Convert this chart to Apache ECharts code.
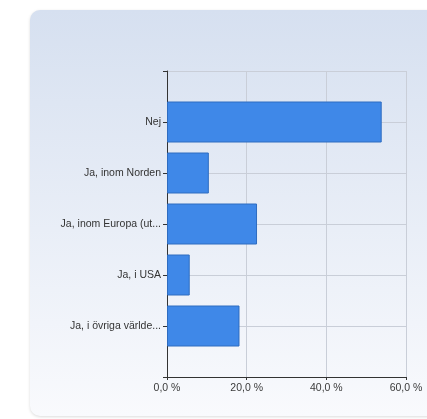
<!DOCTYPE html>
<html>
<head>
<meta charset="utf-8">
<script src="https://cdn.jsdelivr.net/npm/echarts@6/dist/echarts.min.js"></script>
<style>
html,body{margin:0;padding:0;background:#fff;}
#c{width:427px;height:419px;}
</style>
</head>
<body>
<div id="c"></div>
<script>
var categories = ['Nej', 'Ja, inom Norden', 'Ja, inom Europa (ut...', 'Ja, i USA', 'Ja, i övriga världe...'];
var values = [53.9, 10.5, 22.6, 5.7, 18.2];
var xTicks = [0, 20, 40, 60];

var chart = echarts.init(document.getElementById('c'), null, {renderer: 'canvas'});
var font = 'Liberation Sans, Arial, sans-serif';
var axisCats = [''].concat(categories).concat(['']);
var axisVals = [null].concat(values).concat([null]);

chart.setOption({
  animation: false,
  backgroundColor: '#ffffff',
  graphic: {
    elements: [{
      type: 'rect',
      z: -10,
      silent: true,
      shape: {x: 30, y: 10, width: 420, height: 406, r: 10},
      style: {
        fill: new echarts.graphic.LinearGradient(0, 0, 0, 1, [
          {offset: 0, color: '#d6e0f0'},
          {offset: 1, color: '#f9fafd'}
        ]),
        shadowBlur: 3,
        shadowColor: 'rgba(0,0,0,0.14)',
        shadowOffsetY: 1
      }
    }]
  },
  grid: {left: 167, right: 21, top: 71, bottom: 42, containLabel: false},
  xAxis: {
    type: 'value',
    min: xTicks[0],
    max: xTicks[xTicks.length - 1],
    interval: 20,
    axisLine: {show: true, lineStyle: {color: '#333', width: 1}},
    axisTick: {show: true, length: 3, lineStyle: {color: '#333'}},
    splitLine: {show: true, lineStyle: {color: '#c9ced8', width: 1}},
    axisLabel: {
      margin: 6,
      color: '#3a3a3a',
      fontFamily: font,
      fontSize: 10.5,
      formatter: function (v) { return v.toFixed(1).replace('.', ',') + ' %'; }
    }
  },
  yAxis: {
    type: 'category',
    inverse: true,
    boundaryGap: false,
    data: axisCats,
    axisLine: {show: true, lineStyle: {color: '#333', width: 1}},
    axisTick: {show: true, length: 4, interval: 0, lineStyle: {color: '#333'}},
    splitLine: {show: true, interval: 0, lineStyle: {color: '#c9ced8', width: 1}},
    axisLabel: {
      interval: 0,
      margin: 6,
      color: '#333',
      fontFamily: font,
      fontSize: 10.5
    }
  },
  series: [{
    type: 'bar',
    data: axisVals,
    barWidth: 41,
    itemStyle: {color: '#3f88e8', borderColor: '#2e6cc0', borderWidth: 1}
  }]
});
</script>
</body>
</html>
